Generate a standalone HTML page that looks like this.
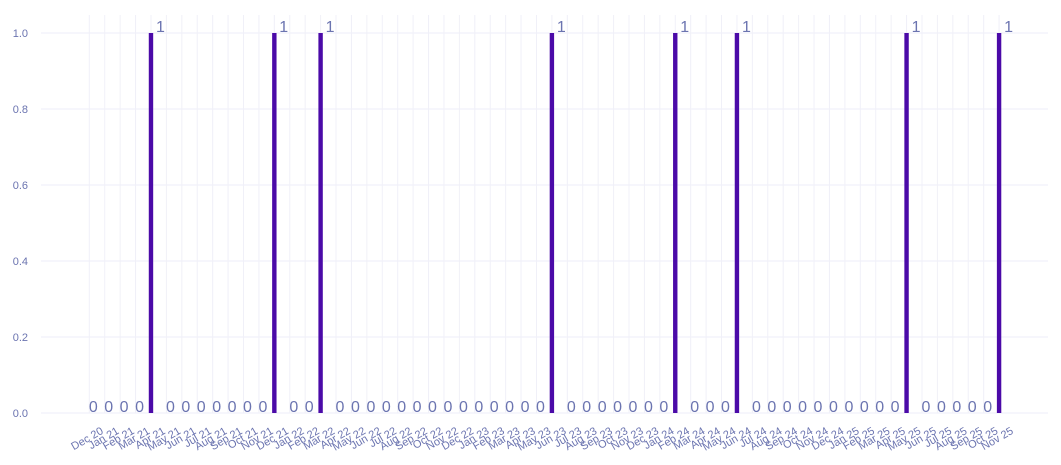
<!DOCTYPE html>
<html><head><meta charset="utf-8"><style>
body{margin:0;background:#fff;}
svg{display:block;font-family:"Liberation Sans",sans-serif;}
.t{fill:#6b74b0;font-size:11px;}
.z{fill:#6b74b0;font-size:16px;}
</style></head><body>
<svg id="s" width="1061" height="465" xmlns="http://www.w3.org/2000/svg">
<g stroke="#eeeef8" stroke-width="1">
<line x1="41" x2="1048" y1="33" y2="33"/><line x1="41" x2="1048" y1="109" y2="109"/><line x1="41" x2="1048" y1="185" y2="185"/><line x1="41" x2="1048" y1="261" y2="261"/><line x1="41" x2="1048" y1="337" y2="337"/><line x1="41" x2="1048" y1="413" y2="413"/>
</g>
<g class="t" text-anchor="end">
<text x="28" y="37">1.0</text><text x="28" y="113">0.8</text><text x="28" y="189">0.6</text><text x="28" y="265">0.4</text><text x="28" y="341">0.2</text><text x="28" y="417">0.0</text>
</g>
<g id="v" stroke="#f0f0f8" stroke-width="1"></g>
<g id="b" fill="#4b0aa8"></g>
<g class="t" text-anchor="end" transform="translate(7,0)">
<text transform="translate(97,433) rotate(-30)">Dec 20</text>
<text transform="translate(112.7,433) rotate(-30)">Jan 21</text>
<text transform="translate(128.1,433) rotate(-30)">Feb 21</text>
<text transform="translate(143.6,433) rotate(-30)">Mar 21</text>
<text transform="translate(159,433) rotate(-30)">Apr 21</text>
<text transform="translate(174.4,433) rotate(-30)">May 21</text>
<text transform="translate(189.8,433) rotate(-30)">Jun 21</text>
<text transform="translate(205.2,433) rotate(-30)">Jul 21</text>
<text transform="translate(220.7,433) rotate(-30)">Aug 21</text>
<text transform="translate(236.1,433) rotate(-30)">Sep 21</text>
<text transform="translate(251.5,433) rotate(-30)">Oct 21</text>
<text transform="translate(266.9,433) rotate(-30)">Nov 21</text>
<text transform="translate(282.3,433) rotate(-30)">Dec 21</text>
<text transform="translate(297.8,433) rotate(-30)">Jan 22</text>
<text transform="translate(313.2,433) rotate(-30)">Feb 22</text>
<text transform="translate(328.6,433) rotate(-30)">Mar 22</text>
<text transform="translate(344,433) rotate(-30)">Apr 22</text>
<text transform="translate(359.4,433) rotate(-30)">May 22</text>
<text transform="translate(374.9,433) rotate(-30)">Jun 22</text>
<text transform="translate(390.3,433) rotate(-30)">Jul 22</text>
<text transform="translate(405.7,433) rotate(-30)">Aug 22</text>
<text transform="translate(421.1,433) rotate(-30)">Sep 22</text>
<text transform="translate(436.5,433) rotate(-30)">Oct 22</text>
<text transform="translate(452,433) rotate(-30)">Nov 22</text>
<text transform="translate(467.4,433) rotate(-30)">Dec 22</text>
<text transform="translate(482.8,433) rotate(-30)">Jan 23</text>
<text transform="translate(498.2,433) rotate(-30)">Feb 23</text>
<text transform="translate(513.6,433) rotate(-30)">Mar 23</text>
<text transform="translate(529.1,433) rotate(-30)">Apr 23</text>
<text transform="translate(544.5,433) rotate(-30)">May 23</text>
<text transform="translate(559.9,433) rotate(-30)">Jun 23</text>
<text transform="translate(575.3,433) rotate(-30)">Jul 23</text>
<text transform="translate(590.7,433) rotate(-30)">Aug 23</text>
<text transform="translate(606.2,433) rotate(-30)">Sep 23</text>
<text transform="translate(621.6,433) rotate(-30)">Oct 23</text>
<text transform="translate(637,433) rotate(-30)">Nov 23</text>
<text transform="translate(652.4,433) rotate(-30)">Dec 23</text>
<text transform="translate(667.8,433) rotate(-30)">Jan 24</text>
<text transform="translate(683.3,433) rotate(-30)">Feb 24</text>
<text transform="translate(698.7,433) rotate(-30)">Mar 24</text>
<text transform="translate(714.1,433) rotate(-30)">Apr 24</text>
<text transform="translate(729.5,433) rotate(-30)">May 24</text>
<text transform="translate(745,433) rotate(-30)">Jun 24</text>
<text transform="translate(760.4,433) rotate(-30)">Jul 24</text>
<text transform="translate(775.8,433) rotate(-30)">Aug 24</text>
<text transform="translate(791.2,433) rotate(-30)">Sep 24</text>
<text transform="translate(806.6,433) rotate(-30)">Oct 24</text>
<text transform="translate(822,433) rotate(-30)">Nov 24</text>
<text transform="translate(837.5,433) rotate(-30)">Dec 24</text>
<text transform="translate(852.9,433) rotate(-30)">Jan 25</text>
<text transform="translate(868.3,433) rotate(-30)">Feb 25</text>
<text transform="translate(883.7,433) rotate(-30)">Mar 25</text>
<text transform="translate(899.1,433) rotate(-30)">Apr 25</text>
<text transform="translate(914.6,433) rotate(-30)">May 25</text>
<text transform="translate(930,433) rotate(-30)">Jun 25</text>
<text transform="translate(945.4,433) rotate(-30)">Jul 25</text>
<text transform="translate(960.8,433) rotate(-30)">Aug 25</text>
<text transform="translate(976.2,433) rotate(-30)">Sep 25</text>
<text transform="translate(991.7,433) rotate(-30)">Oct 25</text>
<text transform="translate(1007.1,433) rotate(-30)">Nov 25</text>
</g>
<g class="z" text-anchor="middle" transform="translate(4,0)">
<text x="89.3" y="412">0</text><text x="104.7" y="412">0</text><text x="120.1" y="412">0</text><text x="135.6" y="412">0</text>
<text x="152" y="32" text-anchor="start">1</text>
<text x="166.4" y="412">0</text><text x="181.8" y="412">0</text><text x="197.2" y="412">0</text><text x="212.7" y="412">0</text><text x="228.1" y="412">0</text><text x="243.5" y="412">0</text><text x="258.9" y="412">0</text>
<text x="275.3" y="32" text-anchor="start">1</text>
<text x="289.8" y="412">0</text><text x="305.2" y="412">0</text>
<text x="321.6" y="32" text-anchor="start">1</text>
<text x="336" y="412">0</text><text x="351.4" y="412">0</text><text x="366.9" y="412">0</text><text x="382.3" y="412">0</text><text x="397.7" y="412">0</text><text x="413.1" y="412">0</text><text x="428.5" y="412">0</text><text x="444" y="412">0</text><text x="459.4" y="412">0</text><text x="474.8" y="412">0</text><text x="490.2" y="412">0</text><text x="505.6" y="412">0</text><text x="521.1" y="412">0</text><text x="536.5" y="412">0</text>
<text x="552.9" y="32" text-anchor="start">1</text>
<text x="567.3" y="412">0</text><text x="582.7" y="412">0</text><text x="598.2" y="412">0</text><text x="613.6" y="412">0</text><text x="629" y="412">0</text><text x="644.4" y="412">0</text><text x="659.8" y="412">0</text>
<text x="676.3" y="32" text-anchor="start">1</text>
<text x="690.7" y="412">0</text><text x="706.1" y="412">0</text><text x="721.5" y="412">0</text>
<text x="738" y="32" text-anchor="start">1</text>
<text x="752.4" y="412">0</text><text x="767.8" y="412">0</text><text x="783.2" y="412">0</text><text x="798.6" y="412">0</text><text x="814" y="412">0</text><text x="829.5" y="412">0</text><text x="844.9" y="412">0</text><text x="860.3" y="412">0</text><text x="875.7" y="412">0</text><text x="891.1" y="412">0</text>
<text x="907.6" y="32" text-anchor="start">1</text>
<text x="922" y="412">0</text><text x="937.4" y="412">0</text><text x="952.8" y="412">0</text><text x="968.2" y="412">0</text><text x="983.7" y="412">0</text>
<text x="1000.1" y="32" text-anchor="start">1</text>
</g>
</svg>
<script>
(function(){
var ns="http://www.w3.org/2000/svg",v=document.getElementById("v"),b=document.getElementById("b");
for(var i=0;i<60;i++){var x=89.3+15.42*i;var l=document.createElementNS(ns,"line");l.setAttribute("x1",x);l.setAttribute("x2",x);l.setAttribute("y1",15);l.setAttribute("y2",413);v.appendChild(l);}
[4,12,15,30,38,42,53,59].forEach(function(i){var x=89.3+15.42*i;var r=document.createElementNS(ns,"rect");r.setAttribute("x",x-2.2);r.setAttribute("y",33);r.setAttribute("width",4.4);r.setAttribute("height",380);b.appendChild(r);});
})();
</script>
</body></html>
